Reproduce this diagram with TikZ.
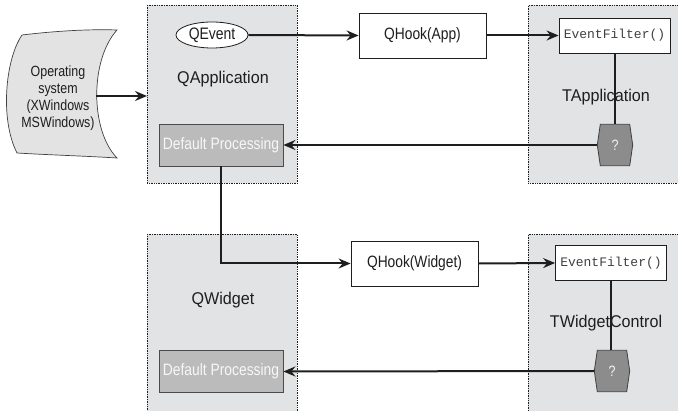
\documentclass[tikz,border=0pt]{standalone}
\usepackage{fontspec}
\setmainfont{Liberation Sans}
\setmonofont{Liberation Mono}
\newfontfamily\narrowsans[FakeStretch=0.84]{Liberation Sans}
\newfontfamily\midsans[FakeStretch=0.95]{Liberation Sans}
\usetikzlibrary{arrows.meta,calc,shapes.geometric}
\definecolor{grp}{HTML}{E2E3E5}
\definecolor{osfill}{HTML}{E3E3E3}
\definecolor{dpfill}{HTML}{BBBBBB}
\definecolor{hexfill}{HTML}{8C8C8C}
\definecolor{ink}{HTML}{1E1E1E}
\pgfdeclarelayer{back}
\pgfdeclarelayer{mid}
\pgfsetlayers{back,mid,main}
\begin{document}
\begin{tikzpicture}[x=1pt,y=-1pt,
  group/.style={draw=ink, densely dotted, line width=0.7pt, fill=grp, inner sep=0pt, anchor=north west},
  biglbl/.style={font=\midsans\fontsize{17}{19}\selectfont, text=ink},
  hookbox/.style={draw=ink, line width=0.8pt, fill=white, minimum width=127, minimum height=45, inner sep=0pt, text=ink, font=\narrowsans\fontsize{16.4}{18}\selectfont},
  efbox/.style={draw=ink, line width=0.8pt, fill=white, minimum width=111, minimum height=35, inner sep=0pt, text=ink!85, font=\ttfamily\fontsize{13}{15}\selectfont},
  dpbox/.style={draw=ink!80, line width=0.8pt, fill=dpfill, text=white!97!black, minimum width=124, minimum height=42, inner sep=0pt, font=\narrowsans\fontsize{16.5}{18}\selectfont},
  hexnode/.style={minimum width=35, minimum height=41, inner sep=0pt, text=white!95!black, font=\narrowsans\fontsize{15}{17}\selectfont},
  hexshape/.style={fill=hexfill, draw=ink!85, line width=0.8pt},
  arr/.style={draw=ink, line width=2pt, -{Stealth[length=12pt,width=10pt,inset=4pt]}},
  ln/.style={draw=ink, line width=2pt}
]
\clip (0,0) rectangle (678,411);

% group boxes
\begin{pgfonlayer}{back}
\node[group, minimum width=150, minimum height=178] (qapp) at (147,5) {};
\node[group, minimum width=170, minimum height=178] (tapp) at (528,5) {};
\node[group, minimum width=150, minimum height=200] (qwid) at (147,234) {};
\node[group, minimum width=170, minimum height=200] (twc) at (528,234) {};
\end{pgfonlayer}

% operating system shape
\draw[fill=osfill, draw=ink!85, line width=0.7pt]
  (22,35) .. controls (55,31) and (90,29) .. (117,30)
  .. controls (90,60) and (90,130) .. (117,158)
  .. controls (85,156) and (50,155) .. (17,153)
  .. controls (0,120) and (5,60) .. (22,35) -- cycle;
\node[align=center, font=\narrowsans\fontsize{14.8}{17}\selectfont, text=ink] (os) at (58,98)
  {Operating\\system\\(XWindows\\MSWindows)};
\coordinate (osr) at (96,96);

% labels
\node[biglbl] (qapplbl) at (223,79) {QApplication};
\node[biglbl] (tapplbl) at (606,97) {TApplication};
\node[biglbl] (qwidlbl) at (223,300) {QWidget};
\node[biglbl] (twclbl) at (606,323) {TWidgetControl};

% upper row
\node[draw=ink, line width=0.8pt, fill=white, ellipse, minimum width=72, minimum height=26, inner sep=0pt,
      text=ink, font=\narrowsans\fontsize{16.6}{18}\selectfont] (qev) at (212,35) {QEvent};
\node[hookbox] (qha) at (422.5,35.5) {QHook(App)};
\node[efbox] (ef1) at (614.5,35.5) {EventFilter()};
\node[dpbox] (dp1) at (221,145) {Default Processing};
\node[hexnode] (h1) at (615,145) {?};

% lower row
\node[hookbox] (qhw) at (414.5,263.5) {QHook(Widget)};
\node[efbox] (ef2) at (611,263) {EventFilter()};
\node[dpbox] (dp2) at (221,371.5) {Default Processing};
\node[hexnode] (h2) at (612,371) {?};

% hexagon outlines
\begin{pgfonlayer}{mid}
\foreach \h in {h1,h2}{
  \draw[hexshape] ($(\h.north west)+(3,0)$) -- ($(\h.north east)+(-3,0)$) -- (\h.east)
    -- ($(\h.south east)+(-3,0)$) -- ($(\h.south west)+(3,0)$) -- (\h.west) -- cycle;
}
\end{pgfonlayer}

% connectors
\draw[arr] (osr) -- (osr -| qapp.west);
\draw[arr] (qev.east) -- (qha.west);
\draw[arr] (qha.east) -- (ef1.west);
\draw[ln] (ef1.south) -- (ef1.south |- h1.north);
\draw[arr] (h1.west) -- (dp1.east);
\draw[arr] (dp1.south) |- (qhw.west);
\draw[arr] (qhw.east) -- (ef2.west);
\draw[ln] (ef2.south) -- (ef2.south |- h2.north);
\draw[arr] (h2.west) -- (dp2.east);
\end{tikzpicture}
\end{document}
